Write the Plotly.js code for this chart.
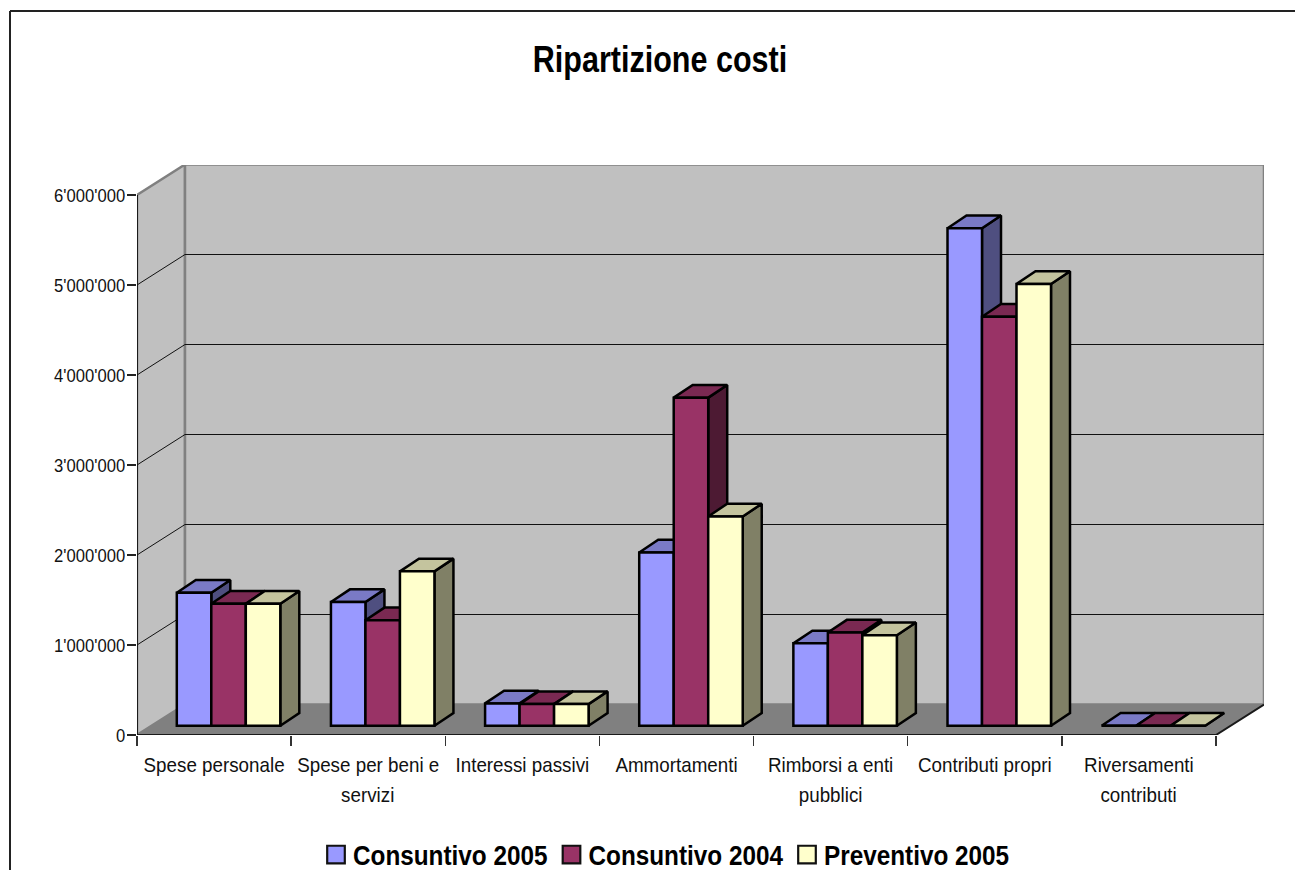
<!DOCTYPE html>
<html><head><meta charset="utf-8">
<script src="https://cdn.plot.ly/plotly-3.0.1.min.js"></script>
<style>html,body{margin:0;padding:0;background:#fff;overflow:hidden}</style>
</head><body><div id="chart" style="width:1295px;height:870px"></div>
<script>
const firstLines = ["Spese personale","Spese per beni e","Interessi passivi","Ammortamenti","Rimborsi a enti","Contributi propri","Riversamenti"];
const secondLines = ["","servizi","","","pubblici","","contributi"];
const seriesNames = ["Consuntivo 2005","Consuntivo 2004","Preventivo 2005"];
const consuntivo2005 = [1477000,1374000,248000,1925000,915000,5527000,0];
const consuntivo2004 = [1355000,1171000,240000,3645000,1035000,4544000,0];
const preventivo2005 = [1355000,1715000,240000,2325000,1005000,4908000,0];
const frontColors = ["#9999FF","#993366","#FFFFCC"];
const topColors = ["#7A7AC6","#7A2952","#C4C49E"];
const sideColors = ["#4F4F80","#4D1A33","#808066"];
const yTickVals = [0,1000000,2000000,3000000,4000000,5000000,6000000];
const yTickText = ["0","1'000'000","2'000'000","3'000'000","4'000'000","5'000'000","6'000'000"];

const groupPx = 154.14, pxPerUnit = 90/1000000;
const px = p => p/groupPx, py = p => p/pxPerUnit;
const wallDx = px(48), wallDy = py(30.5);
const barBase = py(9.3), barW = px(34.5), barDx = px(19), barDy = py(12.7);
const groupStart = px(39.8);
const nGroups = firstLines.length;
const xRange = [0, 1127/groupPx], yRange = [0, 570/pxPerUnit];
const font = "'Liberation Sans',Arial,sans-serif";
const allSeries = [consuntivo2005, consuntivo2004, preventivo2005];
const centers = firstLines.map((_,i)=>i+0.5);

const traces = [];
function poly(xs, ys, fill, line, lw, z, axis){
  traces.push({type:'scatter',mode:'lines',x:xs,y:ys,fill:fill?'toself':'none',fillcolor:fill||undefined,
    line:{color:line,width:lw},showlegend:false,hoverinfo:'skip',cliponaxis:false,zorder:z,xaxis:axis||'x',yaxis:'y'});
}
// walls and floor
poly([0,wallDx,wallDx,0,0],[0,wallDy,6e6+wallDy,6e6,0],'#C0C0C0','#808080',2.5,0);
poly([wallDx,nGroups+wallDx,nGroups+wallDx,wallDx,wallDx],[wallDy,wallDy,6e6+wallDy,6e6+wallDy,wallDy],'#C0C0C0','#808080',2.5,0);
poly([0,nGroups,nGroups+wallDx,wallDx,0],[0,0,wallDy,wallDy,0],'#808080','#808080',1,0);
// gridlines
const gx=[],gy=[];
yTickVals.slice(1,-1).forEach(v=>{gx.push(0,wallDx,nGroups+wallDx,null);gy.push(v,v+wallDy,v+wallDy,null);});
poly(gx,gy,null,'#111',1,1);

// bars, drawn series by series from the back-left to the front-right
allSeries.forEach((vals,s)=>{
  const xc = vals.map((_,i)=>i+groupStart+barW*(s+0.5));
  const tx=[],ty=[],sx=[],sy=[];
  vals.forEach((v,i)=>{
    const l=xc[i]-barW/2,r=xc[i]+barW/2,t=barBase+v;
    tx.push(l,r,r+barDx,l+barDx,l,null);ty.push(t,t,t+barDy,t+barDy,t,null);
    sx.push(r,r+barDx,r+barDx,r,r,null);sy.push(barBase,barBase+barDy,t+barDy,t,barBase,null);
  });
  const z=2+s*2;
  poly(sx,sy,sideColors[s],'#000',2.5,z);
  poly(tx,ty,topColors[s],'#000',2.5,z);
  traces.push({type:'bar',name:seriesNames[s],x:xc,y:vals,base:vals.map(()=>barBase),width:barW,
    marker:{color:frontColors[s],line:{color:'#000',width:2.5}},showlegend:false,zorder:z+1,cliponaxis:false,
    xaxis:'x',yaxis:'y',text:firstLines,hovertemplate:'%{y}<extra>'+seriesNames[s]+'</extra>',textposition:'none'});
});
// axis lines on the overlay axis, which carries the tick marks between categories
traces.push({type:'scatter',mode:'lines',x:[0,0,nGroups,nGroups+wallDx],y:[6e6,0,0,wallDy],
  line:{color:'#1a1a1a',width:2},showlegend:false,hoverinfo:'skip',cliponaxis:false,xaxis:'x2',yaxis:'y'});
// legend entries
seriesNames.forEach((n,s)=>traces.push({type:'scatter',mode:'markers',name:n,x:[null],y:[null],
  marker:{symbol:'square',size:16,color:frontColors[s],line:{color:'#111',width:2}},xaxis:'x',yaxis:'y'}));

const annotations = secondLines.map((t,i)=>({t,i})).filter(a=>a.t)
  .map(a=>({text:a.t,x:centers[a.i],xref:'x',yref:'paper',y:(735-795)/570,yanchor:'middle',xanchor:'center',showarrow:false,
    font:{family:font,size:21,color:'#111'}}));

const shapes = [
  {type:'line',xref:'paper',yref:'paper',x0:(10-137)/1127,x1:(1300-137)/1127,y0:(735-11)/570,y1:(735-11)/570,line:{color:'#222',width:2}},
  {type:'line',xref:'paper',yref:'paper',x0:(10-137)/1127,x1:(10-137)/1127,y0:(735-11)/570,y1:(735-875)/570,line:{color:'#222',width:2}}
];

const layout = {
  width:1295,height:870,autosize:false,
  margin:{l:137,r:31,t:165,b:135,pad:0,autoexpand:false},
  paper_bgcolor:'#fff',plot_bgcolor:'rgba(0,0,0,0)',
  barmode:'overlay',
  title:{text:'<b>Ripartizione costi</b>',automargin:false,x:660/1295,xanchor:'center',y:1-59/870,yanchor:'middle',
    font:{family:font,size:36,color:'#000'}},
  xaxis:{range:xRange,tickmode:'array',tickvals:centers,ticktext:firstLines,ticks:'outside',ticklen:11,tickcolor:'rgba(0,0,0,0)',showgrid:false,zeroline:false,
    showline:false,tickangle:0,tickfont:{family:font,size:21,color:'#111'},automargin:false,fixedrange:true},
  xaxis2:{range:xRange,overlaying:'x',anchor:'y',side:'bottom',tickmode:'array',
    tickvals:Array.from({length:nGroups+1},(_,i)=>i),ticks:'outside',ticklen:10,tickwidth:1.5,tickcolor:'#333',
    showticklabels:false,showgrid:false,zeroline:false,showline:false,fixedrange:true},
  yaxis:{range:yRange,tickmode:'array',tickvals:yTickVals,ticktext:yTickText,ticks:'outside',ticklen:9,tickwidth:1.5,tickcolor:'#222',ticklabelstandoff:-2,
    showgrid:false,zeroline:false,showline:false,tickfont:{family:font,size:19,color:'#111'},automargin:false,fixedrange:true},
  showlegend:true,
  legend:{orientation:'h',x:(316-137)/1127,xanchor:'left',y:(735-855)/570,yanchor:'middle',bgcolor:'rgba(0,0,0,0)',
    font:{family:font,size:27,color:'#000',weight:'bold'},itemwidth:30,traceorder:'normal',entrywidth:190.5,entrywidthmode:'pixels'},
  annotations, shapes
};
// The reference uses a narrow sans; no such face is installed, so glyphs are condensed in place.
function condense(sel,f){
  document.querySelectorAll(sel).forEach(el=>{
    const n=el.getComputedTextLength();
    if(n>0){el.setAttribute('textLength',n*f);el.setAttribute('lengthAdjust','spacingAndGlyphs');}
  });
}
Plotly.newPlot('chart',traces,layout,{displayModeBar:false,staticPlot:true}).then(()=>{
  condense('.xtick text',0.895);
  condense('.annotation-text',0.895);
  condense('.ytick text',0.875);
  condense('.legendtext',0.90);
  condense('.gtitle',0.848);
  document.querySelectorAll('.legendtext').forEach(el=>el.setAttribute('x',parseFloat(el.getAttribute('x'))-3));
  document.querySelectorAll('.legendpoints path').forEach(el=>{
    el.setAttribute('transform',(el.getAttribute('transform')||'')+' scale(1.1)');
  });
});
</script></body></html>
